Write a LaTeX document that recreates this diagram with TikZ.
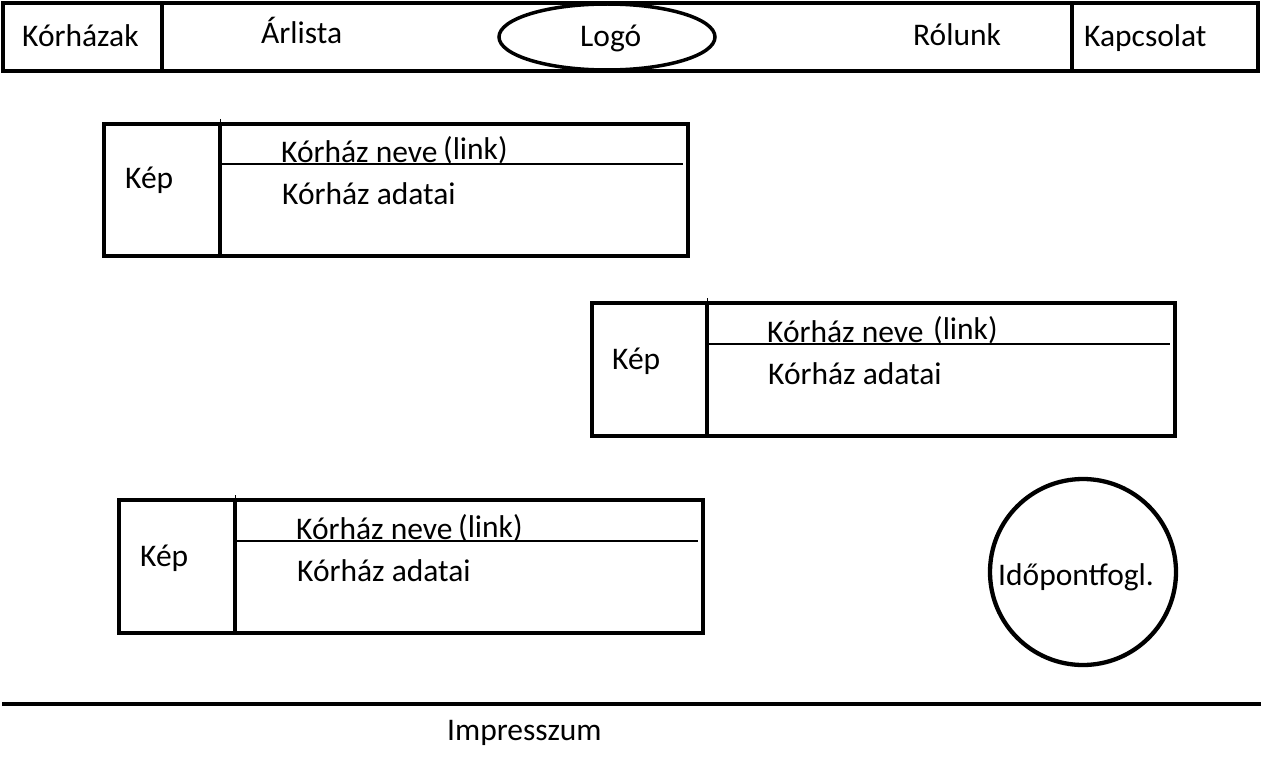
\documentclass[tikz,border=0pt]{standalone}
\usepackage{fontspec}
\setmainfont{Carlito}
\begin{document}
\begin{tikzpicture}[x=1pt,y=-1pt,
  thickline/.style={line width=4.3pt},
  thinline/.style={line width=1.3pt},
  lbl/.style={anchor=base west,inner sep=0pt,font=\fontsize{31.5}{36}\selectfont}]
\useasboundingbox (0,0) rectangle (1263,757);
% top bar
\draw[thickline] (3,3) rectangle (1258,71);
\draw[thickline] (162,3) -- (162,71);
\draw[thickline] (1072,3) -- (1072,71);
\draw[line width=3.5pt] (607,37) ellipse [x radius=108, y radius=33];
\node[lbl] (korhazak) at (22,47) {Kórházak};
\node[lbl] (arlista) at (261,44) {Árlista};
\node[lbl] (logo) at (580,47) {Logó};
\node[lbl] (rolunk) at (913,46) {Rólunk};
\node[lbl] (kapcsolat) at (1084,47) {Kapcsolat};
% box 1
\draw[thickline] (104,124) rectangle (688,256);
\draw[thickline] (220,124) -- (220,256);
\draw[line width=1pt] (220,119) -- (220,124);
\draw[thinline] (220,164) -- (683,164);
\node[lbl] (kep1) at (125,188) {Kép};
\node[lbl] (nev1) at (281,162) {Kórház neve};
\node[lbl] (link1) at (443,159) {(link)};
\node[lbl] (adat1) at (282,204) {Kórház adatai};
% box 2
\draw[thickline] (592,303) rectangle (1175,436);
\draw[thickline] (707,303) -- (707,436);
\draw[line width=1pt] (707,298) -- (707,303);
\draw[thinline] (707,344) -- (1170,344);
\node[lbl] (kep2) at (612,369) {Kép};
\node[lbl] (nev2) at (767,342) {Kórház neve};
\node[lbl] (link2) at (933,339) {(link)};
\node[lbl] (adat2) at (768,384) {Kórház adatai};
% box 3
\draw[thickline] (119,500) rectangle (703,633);
\draw[thickline] (235,500) -- (235,633);
\draw[line width=1pt] (235,495) -- (235,500);
\draw[thinline] (235,541) -- (698,541);
\node[lbl] (kep3) at (140,566) {Kép};
\node[lbl] (nev3) at (296,539) {Kórház neve};
\node[lbl] (link3) at (458,537) {(link)};
\node[lbl] (adat3) at (297,581) {Kórház adatai};
% circle
\draw[thickline] (1083,572) circle [radius=93];
\node[lbl] (idopont) at (998,585) {Időpontfogl.};
% footer
\draw[line width=4.5pt] (2,704) -- (1261,704);
\node[lbl] (impresszum) at (447,740) {Impresszum};
\end{tikzpicture}
\end{document}
